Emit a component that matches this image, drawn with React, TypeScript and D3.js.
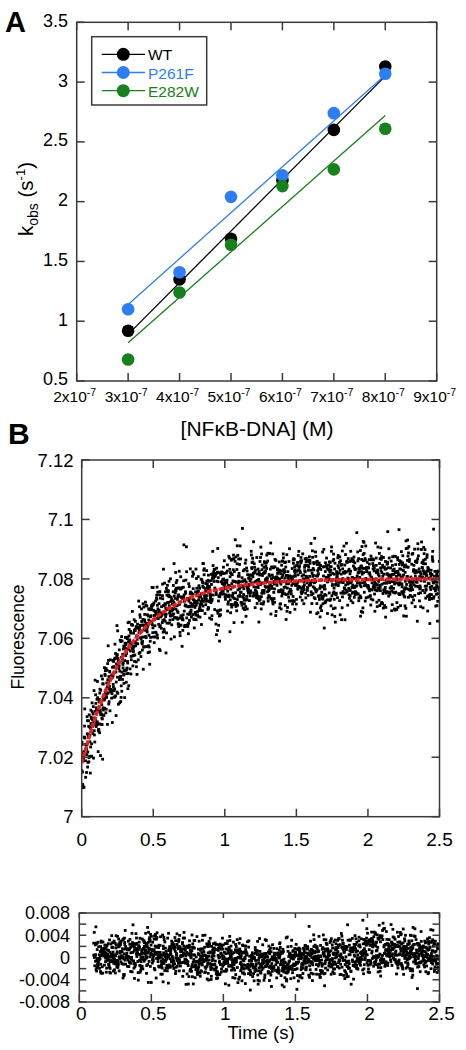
import React, { useMemo } from 'react';
import * as d3 from 'd3';

// ---------- Panel A data ----------
const concentrations = [3e-7, 4e-7, 5e-7, 6e-7, 7e-7, 8e-7];
const wtKobs = [0.92, 1.35, 1.69, 2.18, 2.60, 3.13];
const p261fKobs = [1.10, 1.41, 2.04, 2.22, 2.74, 3.07];
const e282wKobs = [0.68, 1.24, 1.64, 2.13, 2.27, 2.61];
const fitConc = [3e-7, 8e-7];
const wtFit = [0.89, 3.05];
const p261fFit = [1.14, 3.06];
const e282wFit = [0.82, 2.72];
const xTicksA = [2e-7, 3e-7, 4e-7, 5e-7, 6e-7, 7e-7, 8e-7, 9e-7];
const yTicksA = [0.5, 1, 1.5, 2, 2.5, 3, 3.5];
const seriesNames = ['WT', 'P261F', 'E282W'];
const seriesColors = ['#000000', '#2f7df4', '#18801c'];

// ---------- Panel B data ----------
// fitted exponential curve
const fitTime = [0, 0.1, 0.2, 0.3, 0.4, 0.5, 0.6, 0.8, 1.0, 1.25, 1.5, 2.0, 2.5];
const fitFluor = [7.018, 7.034, 7.046, 7.0548, 7.0613, 7.0662, 7.0698, 7.0744, 7.0769, 7.0785, 7.0793, 7.0798, 7.0800];
// spread of the raw trace around the fit (s.d.), per time band
const noiseTime = [0, 0.5, 2.5];
const noiseSd = [0.0066, 0.0057, 0.0055];
const traceCount = 2000;
const xTicksB = [0, 0.5, 1, 1.5, 2, 2.5];
const yTicksB = [7, 7.02, 7.04, 7.06, 7.08, 7.1, 7.12];

// ---------- Residuals ----------
const residTime = [0.1, 0.5, 0.8, 1.0, 1.3, 1.6, 1.9, 2.2, 2.5];
const residDrift = [0.0003, 0.0005, 0.0002, -0.0003, -0.0008, -0.0005, 0.0008, 0.0012, 0.0];
const residSd = 0.0019;
const residCount = 1900;
const yTicksR = [-0.008, -0.006, -0.004, -0.002, 0, 0.002, 0.004, 0.006, 0.008];
const yLabelsR = ['-0.008', '-0.004', '0', '0.004', '0.008'];

const FONT = 'Liberation Sans, Arial, Helvetica, sans-serif';
const AX = '#3a3a3a';

export default function App() {
  // Panel A scales
  const xA = d3.scaleLinear().domain([2e-7, 9e-7]).range([76.7, 436.7]);
  const yA = d3.scaleLinear().domain([0.5, 3.5]).range([381, 22.3]);
  // Panel B scales
  const xB = d3.scaleLinear().domain([0, 2.5]).range([81.7, 439.5]);
  const yB = d3.scaleLinear().domain([7, 7.12]).range([816.7, 460]);
  // residual scales
  const xR = d3.scaleLinear().domain([0, 2.5]).range([79.3, 439.5]);
  const yR = d3.scaleLinear().domain([-0.008, 0.008]).range([1002, 913]);

  const fitInterp = d3.scaleLinear().domain(fitTime).range(fitFluor);
  const sdInterp = d3.scaleLinear().domain(noiseTime).range(noiseSd);
  const driftInterp = d3.scaleLinear().domain(residTime).range(residDrift);

  const trace = useMemo(() => {
    const rnd = d3.randomNormal.source(d3.randomLcg(0.137))(0, 1);
    const pts: [number, number][] = [];
    for (let i = 0; i < traceCount; i++) {
      const t = (i / (traceCount - 1)) * 2.5;
      pts.push([t, fitInterp(t) + sdInterp(t) * rnd()]);
    }
    return pts;
  }, []);

  const resid = useMemo(() => {
    const rnd = d3.randomNormal.source(d3.randomLcg(0.591))(0, 1);
    const pts: [number, number][] = [];
    for (let i = 0; i < residCount; i++) {
      const t = 0.1 + (i / (residCount - 1)) * 2.4;
      pts.push([t, driftInterp(t) + residSd * rnd()]);
    }
    return pts;
  }, []);

  const fitLine = d3
    .line<number>()
    .x((_, i) => xB(fitTime[i]))
    .y((d) => yB(d))
    .curve(d3.curveMonotoneX);

  const seriesData = [wtKobs, p261fKobs, e282wKobs];
  const fitData = [wtFit, p261fFit, e282wFit];

  const tick = 8;
  const ds = 2.8;

  return (
    <svg width={466} height={1050} style={{ position: 'absolute', left: 0, top: 0, background: '#fff' }} fontFamily={FONT}>
      <rect width={466} height={1050} fill="#fff" />
      {/* ================= Panel A ================= */}
      <text x={5} y={32} fontSize={29} fontWeight="bold">A</text>
      <rect x={xA(2e-7)} y={yA(3.5)} width={xA(9e-7) - xA(2e-7)} height={yA(0.5) - yA(3.5)} fill="none" stroke={AX} strokeWidth={1.5} />
      {xTicksA.map((v, i) => (
        <g key={'xa' + i}>
          <line x1={xA(v)} x2={xA(v)} y1={yA(0.5)} y2={yA(0.5) - tick} stroke={AX} strokeWidth={1.5} />
          <line x1={xA(v)} x2={xA(v)} y1={yA(3.5)} y2={yA(3.5) + tick} stroke={AX} strokeWidth={1.5} />
          <text x={xA(v) - 2} y={402} fontSize={15.5} textAnchor="middle">
            {`${Math.round(v * 1e7)}x10`}
            <tspan fontSize={10.5} dy={-6.5}>-7</tspan>
          </text>
        </g>
      ))}
      {yTicksA.map((v, i) => (
        <g key={'ya' + i}>
          <line x1={xA(2e-7)} x2={xA(2e-7) + tick} y1={yA(v)} y2={yA(v)} stroke={AX} strokeWidth={1.5} />
          <line x1={xA(9e-7)} x2={xA(9e-7) - tick} y1={yA(v)} y2={yA(v)} stroke={AX} strokeWidth={1.5} />
          <text x={68} y={yA(v) - 2} dy="0.36em" fontSize={18} textAnchor="end">{String(v)}</text>
        </g>
      ))}
      {/* fit lines */}
      {fitData.map((f, s) => (
        <line key={'fit' + s} x1={xA(fitConc[0])} x2={xA(fitConc[1])} y1={yA(f[0])} y2={yA(f[1])} stroke={seriesColors[s]} strokeWidth={1.3} />
      ))}
      {/* points */}
      {seriesData.map((arr, s) => (
        <g key={'s' + s}>
          {arr.map((v, i) => (
            <circle key={i} cx={xA(concentrations[i])} cy={yA(v)} r={6.3} fill={seriesColors[s]} />
          ))}
        </g>
      ))}
      {/* legend */}
      <rect x={91.7} y={36.7} width={115} height={68.3} fill="#fff" stroke={AX} strokeWidth={1.5} />
      {seriesNames.map((n, i) => {
        const cy = 54.3 + i * 18.2;
        return (
          <g key={'lg' + i}>
            <line x1={101.7} x2={145} y1={cy} y2={cy} stroke={seriesColors[i]} strokeWidth={1.3} />
            <circle cx={123.3} cy={cy} r={6.5} fill={seriesColors[i]} />
            <text x={148} y={cy + 6} fontSize={15.5} fill={seriesColors[i]}>{n}</text>
          </g>
        );
      })}
      {/* axis titles */}
      <text x={257} y={436} fontSize={21} textAnchor="middle">[NFκB-DNA] (M)</text>
      <text transform="translate(33,199) rotate(-90)" fontSize={20.5} textAnchor="middle">
        k<tspan fontSize={14} dy={5}>obs</tspan>
        <tspan dy={-5}> (s</tspan>
        <tspan fontSize={13} dy={-8}>-1</tspan>
        <tspan dy={8}>)</tspan>
      </text>

      {/* ================= Panel B ================= */}
      <text x={8} y={444} fontSize={30} fontWeight="bold">B</text>
      <defs>
        <clipPath id="clipB">
          <rect x={xB(0)} y={yB(7.12)} width={xB(2.5) - xB(0)} height={yB(7) - yB(7.12)} />
        </clipPath>
        <clipPath id="clipR">
          <rect x={xR(0)} y={yR(0.008)} width={xR(2.5) - xR(0)} height={yR(-0.008) - yR(0.008)} />
        </clipPath>
      </defs>
      <g clipPath="url(#clipB)">
        {trace.map((p, i) => (
          <rect key={i} x={xB(p[0]) - ds / 2} y={yB(p[1]) - ds / 2} width={ds} height={ds} fill="#000" />
        ))}
        <path d={fitLine(fitFluor) || ''} fill="none" stroke="#ee1c1c" strokeWidth={3.5} strokeDasharray="5 1.2" />
      </g>
      <rect x={xB(0)} y={yB(7.12)} width={xB(2.5) - xB(0)} height={yB(7) - yB(7.12)} fill="none" stroke={AX} strokeWidth={1.5} />
      {xTicksB.map((v, i) => (
        <g key={'xb' + i}>
          <line x1={xB(v)} x2={xB(v)} y1={yB(7)} y2={yB(7) - tick} stroke={AX} strokeWidth={1.5} />
          <line x1={xB(v)} x2={xB(v)} y1={yB(7.12)} y2={yB(7.12) + tick} stroke={AX} strokeWidth={1.5} />
          <text x={xB(v)} y={846} fontSize={19} textAnchor="middle">{String(v)}</text>
        </g>
      ))}
      {yTicksB.map((v, i) => (
        <g key={'yb' + i}>
          <line x1={xB(0)} x2={xB(0) + tick} y1={yB(v)} y2={yB(v)} stroke={AX} strokeWidth={1.5} />
          <line x1={xB(2.5)} x2={xB(2.5) - tick} y1={yB(v)} y2={yB(v)} stroke={AX} strokeWidth={1.5} />
          <text x={73.5} y={yB(v)} dy="0.36em" fontSize={18.5} textAnchor="end">{d3.format('')(v)}</text>
        </g>
      ))}
      <text transform="translate(24,637) rotate(-90)" fontSize={17.5} textAnchor="middle">Fluorescence</text>

      {/* ================= Residuals ================= */}
      <g clipPath="url(#clipR)">
        {resid.map((p, i) => (
          <rect key={i} x={xR(p[0]) - ds / 2} y={yR(p[1]) - ds / 2} width={ds} height={ds} fill="#000" />
        ))}
      </g>
      <rect x={xR(0)} y={yR(0.008)} width={xR(2.5) - xR(0)} height={yR(-0.008) - yR(0.008)} fill="none" stroke={AX} strokeWidth={1.5} />
      {xTicksB.map((v, i) => (
        <g key={'xr' + i}>
          <line x1={xR(v)} x2={xR(v)} y1={yR(-0.008)} y2={yR(-0.008) - tick} stroke={AX} strokeWidth={1.5} />
          <line x1={xR(v)} x2={xR(v)} y1={yR(0.008)} y2={yR(0.008) + 5} stroke={AX} strokeWidth={1.5} />
          <text x={xR(v) + 2} y={1019.5} fontSize={19} textAnchor="middle">{String(v)}</text>
        </g>
      ))}
      {yTicksR.map((v, i) => (
        <g key={'yr' + i}>
          <line x1={xR(0)} x2={xR(0) + 7} y1={yR(v)} y2={yR(v)} stroke={AX} strokeWidth={1.5} />
          <line x1={xR(2.5)} x2={xR(2.5) - 7} y1={yR(v)} y2={yR(v)} stroke={AX} strokeWidth={1.5} />
        </g>
      ))}
      {yLabelsR.map((l, i) => (
        <text key={'rl' + i} x={70} y={yR(+l)} dy="0.36em" fontSize={18} textAnchor="end">{l}</text>
      ))}
      <text x={261} y={1039} fontSize={18.5} textAnchor="middle">Time (s)</text>
    </svg>
  );
}
